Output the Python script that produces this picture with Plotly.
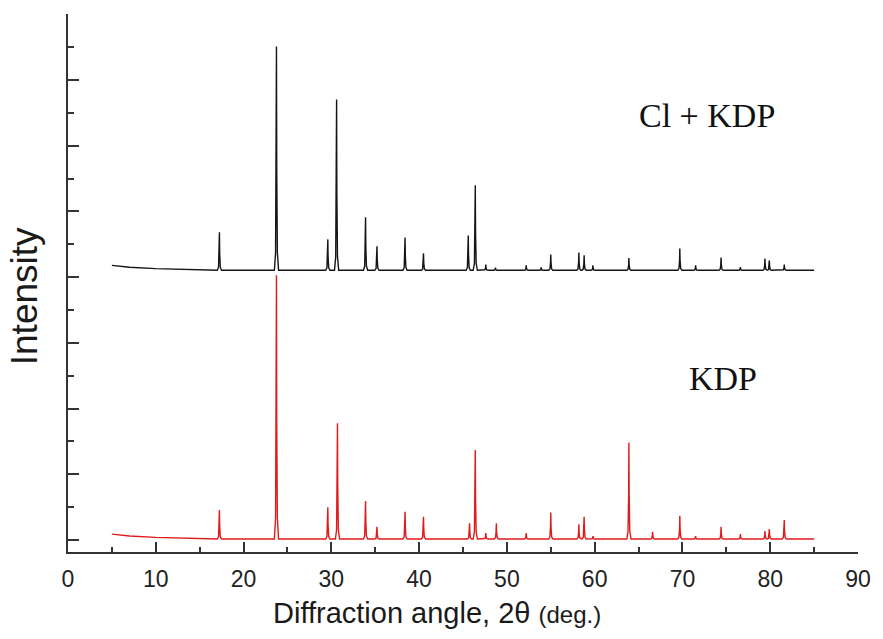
import plotly.graph_objects as go

# ---------------- data ----------------
# Cl + KDP pattern (black, upper trace): peak positions (2theta, deg) and heights (arb. units)
clkdp_pos = [17.25, 23.75, 29.6, 30.6, 33.9, 35.2, 38.4, 40.5, 45.6, 46.4, 47.6, 48.7,
             52.2, 53.9, 55.0, 58.2, 58.8, 59.8, 63.9, 69.7, 71.5, 74.4, 76.6, 79.4,
             79.9, 81.6]
clkdp_int = [1.16, 6.81, 0.94, 5.20, 1.61, 0.73, 1.00, 0.52, 1.06, 2.59, 0.17, 0.08,
             0.15, 0.09, 0.48, 0.54, 0.46, 0.15, 0.37, 0.66, 0.15, 0.39, 0.10, 0.36,
             0.30, 0.17]
clkdp_offset = 8.21

# KDP pattern (red, lower trace)
kdp_pos = [17.25, 23.75, 29.6, 30.7, 33.9, 35.2, 38.4, 40.5, 45.75, 46.4, 47.6, 48.8,
           52.2, 55.0, 58.2, 58.8, 59.8, 63.9, 66.6, 69.7, 71.5, 74.4, 76.6, 79.4,
           79.9, 81.6]
kdp_int = [0.88, 8.03, 0.97, 3.52, 1.16, 0.37, 0.83, 0.68, 0.48, 2.71, 0.18, 0.48,
           0.18, 0.81, 0.45, 0.68, 0.09, 2.94, 0.22, 0.71, 0.09, 0.37, 0.15, 0.24,
           0.30, 0.58]
kdp_offset = 0.03

# background (low-angle rise) anchor points
bg_x = [5, 7, 10, 14, 85]
clkdp_bg = [0.15, 0.09, 0.05, 0.01, 0.0]
kdp_bg = [0.15, 0.09, 0.05, 0.01, 0.0]

x_ticks = [0, 10, 20, 30, 40, 50, 60, 70, 80, 90]

# ---------------- peak vertex shape (style) ----------------
PROFILE_DX = [-0.24, -0.1, -0.03, 0.0, 0.03, 0.1, 0.24]
PROFILE_FR = [0.0, 0.08, 0.45, 1.0, 0.45, 0.08, 0.0]


def pattern(pos, inten, bg, offset):
    pts = [(x, offset + b) for x, b in zip(bg_x, bg)]
    for p, h in zip(pos, inten):
        for dx, fr in zip(PROFILE_DX, PROFILE_FR):
            pts.append((p + dx, offset + h * fr))
    pts.sort()
    return [p[0] for p in pts], [p[1] for p in pts]


bx, by = pattern(clkdp_pos, clkdp_int, clkdp_bg, clkdp_offset)
rx, ry = pattern(kdp_pos, kdp_int, kdp_bg, kdp_offset)

fig = go.Figure()
fig.add_trace(go.Scatter(x=rx, y=ry, mode="lines", name="KDP",
                         line=dict(color="#e01b1b", width=1.4)))
fig.add_trace(go.Scatter(x=bx, y=by, mode="lines", name="Cl + KDP",
                         line=dict(color="#151515", width=1.4)))

axis_col = "#333333"
fig.update_layout(
    width=883, height=639,
    margin=dict(l=68, r=19, t=14, b=87),
    plot_bgcolor="white", paper_bgcolor="white",
    showlegend=False,
)
fig.update_xaxes(
    range=[0, 90], tickmode="array", tickvals=x_ticks, ticktext=[str(v) for v in x_ticks],
    ticks="inside", ticklen=10, tickwidth=2, tickcolor=axis_col,
    showline=True, linewidth=2, linecolor=axis_col, showgrid=False, zeroline=False,
    tickfont=dict(family="Liberation Sans, Arial", size=23, color="#222"),
    ticklabelstandoff=5,
    minor=dict(ticks="inside", ticklen=5, tickwidth=2, tickcolor=axis_col,
               tickmode="linear", tick0=0, dtick=5, showgrid=False),
)
fig.update_yaxes(
    range=[-0.365, 16.01], tickmode="linear", tick0=0, dtick=2,
    ticks="inside", ticklen=11, tickwidth=2, tickcolor=axis_col,
    showline=True, linewidth=2, linecolor=axis_col, showgrid=False, zeroline=False,
    showticklabels=False,
    minor=dict(ticks="inside", ticklen=6, tickwidth=2, tickcolor=axis_col,
               tickmode="linear", tick0=0, dtick=1, showgrid=False),
)

fig.add_annotation(text="Diffraction angle, 2θ <span style='font-size:24px'>(deg.)</span>",
                   xref="paper", yref="paper", x=0.467, y=-0.113,
                   xanchor="center", yanchor="middle", showarrow=False,
                   font=dict(family="Liberation Sans, Arial", size=29, color="#1a1a1a"))
fig.add_annotation(text="Intensity", textangle=-90,
                   xref="paper", yref="paper", x=-0.054, y=0.476,
                   xanchor="center", yanchor="middle", showarrow=False,
                   font=dict(family="Liberation Sans, Arial", size=37, color="#1a1a1a"))
fig.add_annotation(text="Cl + KDP", x=72.8, y=12.93, showarrow=False,
                   xanchor="center", yanchor="middle",
                   font=dict(family="Liberation Serif, Times New Roman", size=34, color="#111"))
fig.add_annotation(text="KDP", x=74.6, y=4.93, showarrow=False,
                   xanchor="center", yanchor="middle",
                   font=dict(family="Liberation Serif, Times New Roman", size=34, color="#111"))

fig.write_html("out.html")
